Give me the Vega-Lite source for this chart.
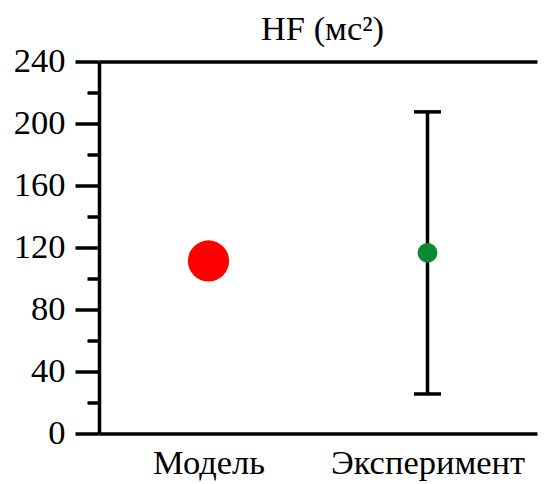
{
  "$schema": "https://vega.github.io/schema/vega-lite/v6.json",
  "width": 438,
  "height": 372,
  "autosize": {"type": "none"},
  "padding": {"left": 99, "top": 61.5, "right": 11, "bottom": 50.5},
  "background": "white",
  "config": {"view": {"stroke": null}, "font": "Liberation Serif"},
  "data": {
    "values": [
      {"group": "Модель", "value": 111.3, "lo": null, "hi": null},
      {"group": "Эксперимент", "value": 116.6, "lo": 25.5, "hi": 207.5}
    ]
  },
  "layer": [
    {
      "transform": [{"filter": "datum.lo != null"}],
      "mark": {"type": "rule", "stroke": "black", "strokeWidth": 3.5},
      "encoding": {
        "x": {
          "field": "group", "type": "nominal",
          "scale": {"type": "point", "padding": 0.5, "domain": ["Модель", "Эксперимент"]},
          "axis": {"orient": "bottom", "ticks": false, "domainWidth": 3.5, "domainColor": "black", "labelFontSize": 34.5, "labelColor": "black", "labelFont": "Liberation Serif", "labelBaseline": "alphabetic", "labelPadding": 39.5, "labelAngle": 0, "labelLimit": 0, "labelOverlap": false, "labelFlush": false, "title": null}
        },
        "y": {
          "field": "lo", "type": "quantitative",
          "scale": {"domain": [0, 240], "nice": false},
          "axis": {
            "orient": "left",
            "values": [0, 20, 40, 60, 80, 100, 120, 140, 160, 180, 200, 220, 240],
            "labelExpr": "datum.value % 40 === 0 ? datum.label : ''",
            "tickSize": {"condition": {"test": "datum.value % 40 === 0", "value": 24}, "value": 12},
            "tickWidth": 3.5, "tickColor": "black",
            "domainWidth": 3.5, "domainColor": "black",
            "labelFontSize": 34.5, "labelColor": "black", "labelFont": "Liberation Serif",
            "labelPadding": 10, "labelOverlap": false, "labelFlush": false,
            "grid": false, "title": null
          }
        },
        "y2": {"field": "hi"}
      }
    },
    {
      "transform": [{"filter": "datum.lo != null"}],
      "mark": {"type": "tick", "color": "black", "size": 27, "thickness": 3.5, "opacity": 1},
      "encoding": {
        "x": {
          "field": "group", "type": "nominal",
          "axis": {"orient": "top", "ticks": false, "labels": false, "domainWidth": 3.5, "domainColor": "black", "title": "HF (мс²)", "titleFontSize": 34.5, "titleFontWeight": "normal", "titleColor": "black", "titleFont": "Liberation Serif", "titleBaseline": "alphabetic", "titleY": -22, "titleX": 223, "titleAlign": "center", "titleLimit": 0}
        },
        "y": {"field": "lo", "type": "quantitative", "axis": null}
      }
    },
    {
      "transform": [{"filter": "datum.hi != null"}],
      "mark": {"type": "tick", "color": "black", "size": 27, "thickness": 3.5, "opacity": 1},
      "encoding": {
        "x": {"field": "group", "type": "nominal", "axis": null},
        "y": {"field": "hi", "type": "quantitative", "axis": null}
      }
    },
    {
      "mark": {"type": "circle", "opacity": 1},
      "encoding": {
        "x": {"field": "group", "type": "nominal", "axis": null},
        "y": {"field": "value", "type": "quantitative", "axis": null},
        "color": {"field": "group", "type": "nominal", "scale": {"domain": ["Модель", "Эксперимент"], "range": ["#ff0000", "#0a8a32"]}, "legend": null},
        "size": {"field": "group", "type": "nominal", "scale": {"domain": ["Модель", "Эксперимент"], "range": [1700, 390]}, "legend": null}
      }
    }
  ],
  "resolve": {"axis": {"x": "independent", "y": "independent"}}
}
